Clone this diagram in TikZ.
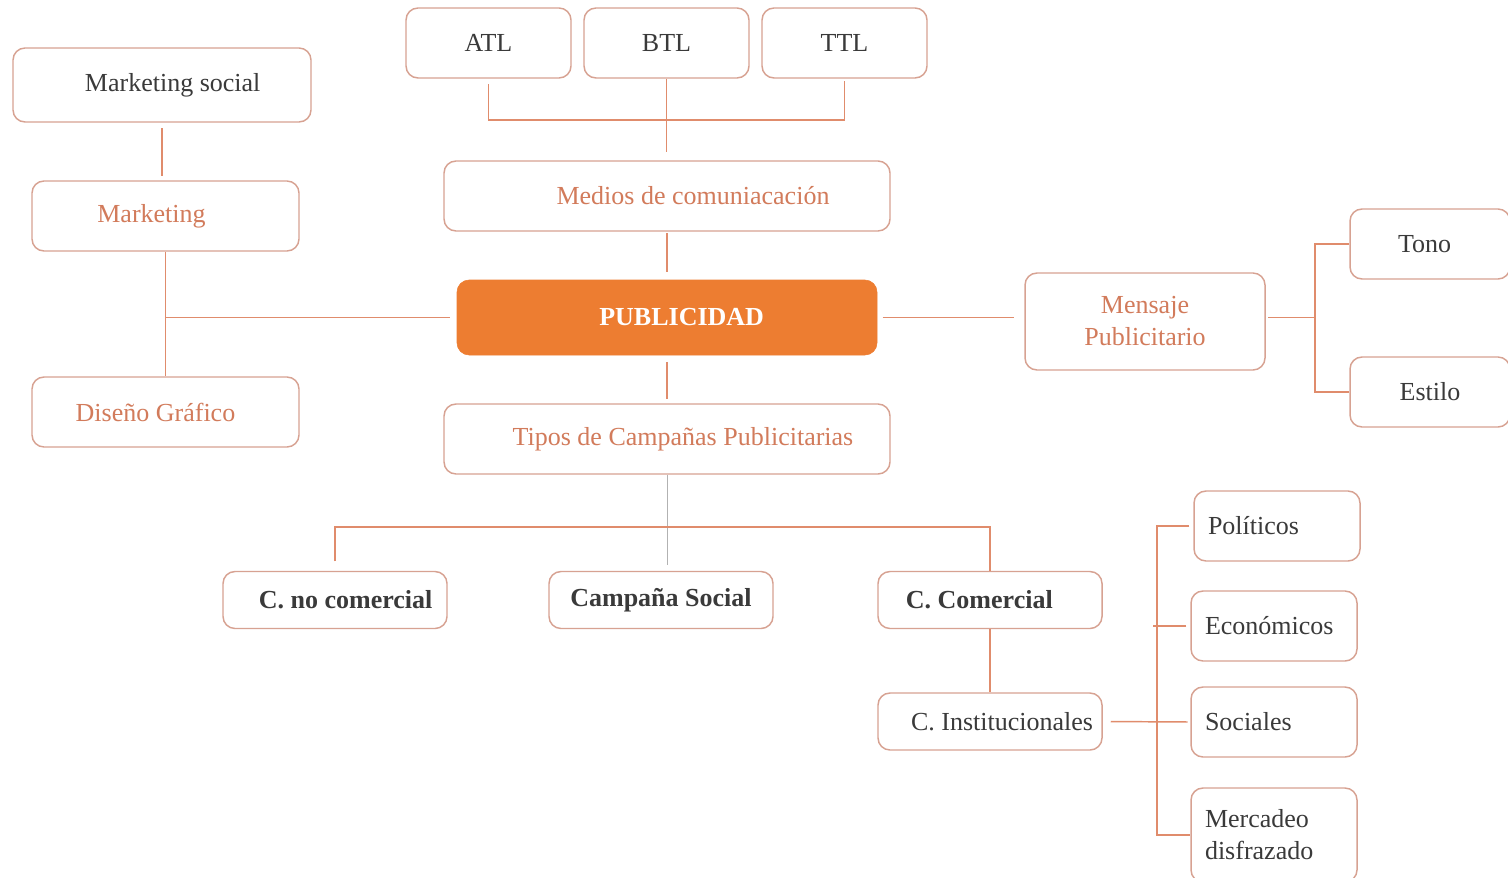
\documentclass[tikz,border=0pt]{standalone}
\usepackage{fontspec}
\setmainfont{Liberation Serif}
\usepackage{tikz}

\definecolor{bordeC}{HTML}{D7A292}
\definecolor{lineaC}{HTML}{E08C6C}
\definecolor{textoN}{HTML}{D27B5B}
\definecolor{textoG}{HTML}{3A3A3A}
\definecolor{pubC}{HTML}{ED7D31}

\begin{document}
\begin{tikzpicture}[x=0.75pt,y=-0.75pt,
  caja/.style={draw=bordeC,line width=1.1pt,rounded corners=9pt,fill=white,
    inner sep=0pt,align=center,font=\fontsize{19.5}{24}\selectfont,text=textoG},
  cajan/.style={caja,text=textoN},
  cajab/.style={caja,font=\fontsize{19.5}{24}\selectfont\bfseries},
  lista/.style={caja,align=left},
  ln/.style={draw=lineaC,line width=1.1pt}]
 \useasboundingbox (0,0) rectangle (1508,877);

 \node[caja,minimum width=298*0.75pt,minimum height=74*0.75pt] at (162,85)(ms){\hspace*{16pt}Marketing social};
 \node[cajan,minimum width=267*0.75pt,minimum height=70*0.75pt] at (165.5,216)(mk){Marketing\hspace*{21pt}};
 \node[cajan,minimum width=267*0.75pt,minimum height=70*0.75pt] at (165.5,412)(dg){Diseño Gráfico\hspace*{15pt}};

 \node[caja,minimum width=165*0.75pt,minimum height=70*0.75pt] at (488.5,43)(atl){ATL};
 \node[caja,minimum width=165*0.75pt,minimum height=70*0.75pt] at (666.5,43)(btl){BTL};
 \node[caja,minimum width=165*0.75pt,minimum height=70*0.75pt] at (844.5,43)(ttl){TTL};

 \node[cajan,minimum width=446*0.75pt,minimum height=70*0.75pt] at (667,196)(med){\hspace*{39pt}Medios de comuniacación};
 \node[draw=pubC,fill=pubC,rounded corners=9pt,text=white,
   font=\fontsize{19.5}{24}\selectfont\bfseries,
   minimum width=420*0.75pt,minimum height=75*0.75pt] at (667,317.5)(pub){\hspace*{22pt}PUBLICIDAD};
 \node[cajan,minimum width=446*0.75pt,minimum height=70*0.75pt] at (667,439)(tip){\hspace*{24pt}Tipos de Campañas Publicitarias};

 \node[cajan,minimum width=240*0.75pt,minimum height=97*0.75pt] at (1145,321.5)(msj){Mensaje\\Publicitario};
 \node[caja,minimum width=160*0.75pt,minimum height=70*0.75pt] at (1430,244)(ton){Tono\hspace*{8pt}};
 \node[caja,minimum width=160*0.75pt,minimum height=70*0.75pt] at (1430,392)(est){Estilo};

 \node[cajab,minimum width=224*0.75pt,minimum height=57*0.75pt] at (335,600)(cnc){\hspace*{16pt}C. no comercial};
 \node[cajab,minimum width=224*0.75pt,minimum height=57*0.75pt] at (661,600)(cps){Campaña Social};
 \node[cajab,minimum width=224*0.75pt,minimum height=57*0.75pt] at (990,600)(cco){C. Comercial\hspace*{16pt}};
 \node[caja,minimum width=224*0.75pt,minimum height=57*0.75pt] at (990,721.5)(cin){\hspace*{18pt}C. Institucionales};

 \node[lista,text width=138*0.75pt,minimum height=70*0.75pt,inner xsep=14*0.75pt] at (1277,526)(pol){Políticos};
 \node[lista,text width=138*0.75pt,minimum height=70*0.75pt,inner xsep=14*0.75pt] at (1274,626)(eco){Económicos};
 \node[lista,text width=138*0.75pt,minimum height=70*0.75pt,inner xsep=14*0.75pt] at (1274,722)(soc){Sociales};
 \node[lista,text width=138*0.75pt,minimum height=94*0.75pt,inner xsep=14*0.75pt] at (1274,835)(mer){Mercadeo\\disfrazado};

 \draw[ln,shorten <=4pt,shorten >=3pt] (ms.south) -- (ms.south |- mk.north);
 \draw[ln] (mk.south) -- (mk.south |- dg.north);
 \draw[ln,shorten >=5pt] (mk.south |- pub.west) -- (pub.west);

 \coordinate (tb) at (662,120);
 \draw[ln,shorten <=4pt,shorten >=2pt] (atl.south) |- (tb) -| (ttl.south);
 \draw[ln,shorten >=6pt] (btl.south) -- (btl.south |- med.north);
 \draw[ln,shorten <=1pt,shorten >=6pt] (med.south) -- (pub.north);
 \draw[ln,shorten <=5pt,shorten >=3pt] (pub.south) -- (tip.north);

 \draw[ln,shorten <=4pt,shorten >=8pt] (pub.east) -- (pub.east -| msj.west);
 \coordinate (rb) at (1315,317.5);
 \draw[ln,shorten <=2pt] (msj.east |- rb) -- (rb);
 \draw[ln] (ton.west) -- (ton.west -| rb) |- (est.west);

 \coordinate (tp) at (665,527);
 \draw[draw=gray!60,line width=0.6pt,shorten >=4pt] (tip.south) -- (tip.south |- cps.north);
 \draw[ln,shorten <=7pt] (cnc.north) |- (tp) -| (cco.north);
 \draw[ln] (cco.south) -- (cin.north);

 \coordinate (kb) at (1157,722);
 \draw[ln,shorten <=6pt,shorten >=2pt] (cin.east) -- (soc.west);
 \draw[ln,shorten <=3pt] (pol.west) -- (pol.west -| kb) |- (mer.west);
 \draw[ln,shorten <=3pt,shorten >=-3pt] (eco.west) -- (eco.west -| kb);
\end{tikzpicture}
\end{document}
